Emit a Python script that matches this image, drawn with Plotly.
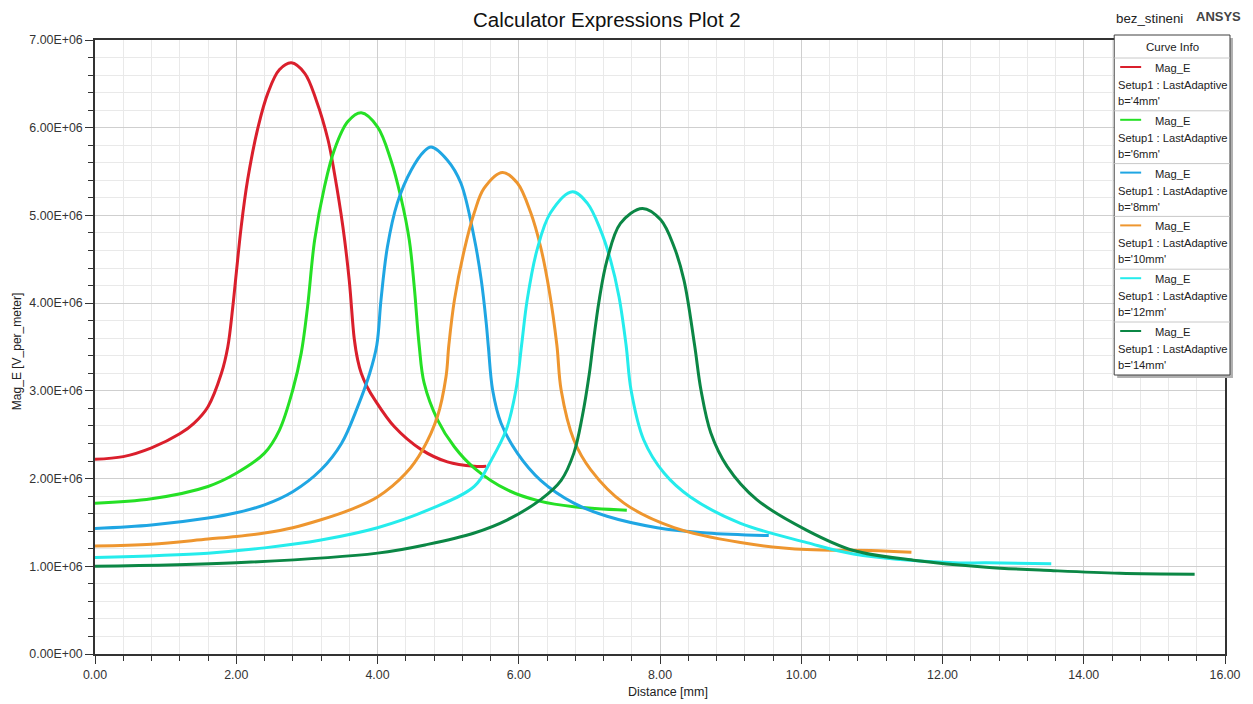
import plotly.graph_objects as go

# ---- data ----
labels = ["b='4mm'", "b='6mm'", "b='8mm'", "b='10mm'", "b='12mm'", "b='14mm'"]
colors = ["#da1f2c", "#25e025", "#1fa6e3", "#ee962f", "#25ecec", "#0b8745"]

x_4 = [0, 0.4, 0.8, 1.2, 1.4, 1.6, 1.79, 1.88, 1.95, 2.0, 2.07, 2.16, 2.31, 2.45, 2.61, 2.78, 2.97, 3.13, 3.30, 3.39, 3.51, 3.60, 3.67, 3.72, 3.77, 3.85, 3.96, 4.24, 4.62, 4.99, 5.37, 5.54]
y_4 = [2.22, 2.25, 2.35, 2.51, 2.63, 2.82, 3.20, 3.50, 3.95, 4.34, 4.87, 5.40, 6.01, 6.40, 6.66, 6.74, 6.62, 6.32, 5.86, 5.48, 4.87, 4.26, 3.60, 3.35, 3.20, 3.05, 2.90, 2.59, 2.33, 2.19, 2.14, 2.14]

x_6 = [0, 0.8, 1.6, 2.0, 2.4, 2.61, 2.8, 2.92, 3.01, 3.11, 3.25, 3.39, 3.58, 3.77, 4.0, 4.19, 4.33, 4.45, 4.52, 4.59, 4.66, 4.85, 5.09, 5.37, 5.84, 6.31, 6.78, 7.53]
y_6 = [1.72, 1.77, 1.91, 2.06, 2.29, 2.55, 3.01, 3.43, 3.96, 4.72, 5.33, 5.75, 6.07, 6.17, 6.01, 5.63, 5.21, 4.72, 4.19, 3.52, 3.09, 2.67, 2.36, 2.12, 1.87, 1.74, 1.68, 1.64]

x_8 = [0, 0.8, 1.6, 2.0, 2.4, 2.8, 3.2, 3.49, 3.72, 3.89, 3.99, 4.05, 4.14, 4.28, 4.48, 4.66, 4.76, 4.99, 5.18, 5.37, 5.47, 5.54, 5.57, 5.63, 5.75, 5.98, 6.31, 6.78, 7.25, 7.96, 8.66, 9.54]
y_8 = [1.43, 1.47, 1.55, 1.61, 1.70, 1.85, 2.10, 2.40, 2.82, 3.20, 3.52, 4.04, 4.64, 5.14, 5.52, 5.73, 5.78, 5.63, 5.37, 4.74, 4.26, 3.77, 3.50, 3.01, 2.63, 2.29, 1.98, 1.72, 1.57, 1.44, 1.38, 1.35]

x_10 = [0, 0.8, 1.6, 2.0, 2.4, 2.8, 3.2, 3.6, 4.0, 4.4, 4.64, 4.85, 4.97, 5.01, 5.09, 5.23, 5.37, 5.51, 5.77, 5.98, 6.17, 6.31, 6.43, 6.54, 6.60, 6.78, 7.02, 7.49, 8.20, 9.14, 10.08, 10.98, 11.56]
y_10 = [1.23, 1.25, 1.31, 1.34, 1.38, 1.44, 1.53, 1.64, 1.79, 2.06, 2.33, 2.71, 3.16, 3.52, 4.04, 4.61, 5.03, 5.31, 5.49, 5.37, 5.03, 4.64, 4.15, 3.52, 3.01, 2.44, 2.10, 1.72, 1.44, 1.27, 1.19, 1.18, 1.16]

x_12 = [0, 1.6, 2.4, 3.2, 4.0, 4.71, 5.37, 5.61, 5.82, 5.96, 6.04, 6.12, 6.26, 6.45, 6.76, 6.97, 7.16, 7.30, 7.42, 7.52, 7.59, 7.77, 8.06, 8.43, 9.14, 10.08, 10.74, 12.16, 12.62, 13.54]
y_12 = [1.10, 1.15, 1.21, 1.30, 1.44, 1.64, 1.91, 2.21, 2.55, 3.01, 3.52, 4.04, 4.61, 5.03, 5.27, 5.14, 4.83, 4.49, 4.07, 3.52, 3.01, 2.44, 2.06, 1.79, 1.49, 1.27, 1.14, 1.04, 1.04, 1.03]

x_14 = [0, 2.0, 4.0, 4.71, 5.37, 5.84, 6.31, 6.60, 6.78, 6.90, 7.0, 7.05, 7.14, 7.25, 7.44, 7.75, 8.01, 8.20, 8.34, 8.49, 8.58, 8.72, 8.95, 9.37, 10.08, 10.74, 11.59, 12.62, 13.57, 14.51, 15.57]
y_14 = [1.00, 1.04, 1.15, 1.25, 1.38, 1.53, 1.76, 1.98, 2.29, 2.71, 3.20, 3.52, 4.04, 4.49, 4.91, 5.08, 4.95, 4.64, 4.26, 3.52, 3.01, 2.52, 2.14, 1.76, 1.41, 1.18, 1.07, 0.99, 0.95, 0.92, 0.91]

xs = [x_4, x_6, x_8, x_10, x_12, x_14]
ys = [y_4, y_6, y_8, y_10, y_12, y_14]

x_tickvals = [0, 2, 4, 6, 8, 10, 12, 14, 16]
x_ticktext = ["0.00", "2.00", "4.00", "6.00", "8.00", "10.00", "12.00", "14.00", "16.00"]
y_tickvals = [0, 1e6, 2e6, 3e6, 4e6, 5e6, 6e6, 7e6]
y_ticktext = ["0.00E+00", "1.00E+06", "2.00E+06", "3.00E+06", "4.00E+06", "5.00E+06", "6.00E+06", "7.00E+06"]

# ---- figure ----
OFF = 8  # default page body margin
W, H = 1253 - OFF, 704 - OFF
L, R, T, B = 95 - OFF, 1227 - OFF, 40 - OFF, 654 - OFF
FONT = "Liberation Sans, Arial, sans-serif"

fig = go.Figure()
for xv, yv, c, lab in zip(xs, ys, colors, labels):
    fig.add_trace(go.Scatter(
        x=xv, y=[v * 1e6 for v in yv], mode="lines", name="Mag_E " + lab,
        line=dict(color=c, width=3, shape="spline", smoothing=1.0),
        showlegend=False,
    ))

def px(xp):
    # xp given in screenshot pixels
    return (xp - OFF - L) / (R - L)

def py(yp):
    return (B - (yp - OFF)) / (B - T)

shapes = []
annotations = []

LEG_FS = 11.2

# legend box "Curve Info"
bx0, bx1, by0, by1 = 1116, 1232, 35, 375
shapes.append(dict(type="rect", xref="paper", yref="paper",
                   x0=px(bx0 + 3), x1=px(bx1 + 3), y0=py(by1 + 3), y1=py(by0 + 3),
                   fillcolor="#b0b0b0", line=dict(width=0), layer="above"))
shapes.append(dict(type="rect", xref="paper", yref="paper",
                   x0=px(bx0), x1=px(bx1), y0=py(by1), y1=py(by0),
                   fillcolor="white", line=dict(color="#404040", width=1), layer="above"))
annotations.append(dict(xref="paper", yref="paper", x=px((bx0 + bx1) / 2), y=py(47),
                        text="Curve Info", showarrow=False, xanchor="center", yanchor="middle",
                        font=dict(family=FONT, size=11.5, color="#222")))
row_top = 58
row_h = 52.8
shapes.append(dict(type="line", xref="paper", yref="paper", x0=px(bx0), x1=px(bx1),
                   y0=py(row_top), y1=py(row_top), line=dict(color="#c8c8c8", width=1), layer="above"))
for i, (c, lab) in enumerate(zip(colors, labels)):
    top = row_top + i * row_h
    if i > 0:
        shapes.append(dict(type="line", xref="paper", yref="paper", x0=px(bx0), x1=px(bx1),
                           y0=py(top), y1=py(top), line=dict(color="#c8c8c8", width=1), layer="above"))
    shapes.append(dict(type="line", xref="paper", yref="paper", x0=px(1122), x1=px(1143),
                       y0=py(top + 9), y1=py(top + 9), line=dict(color=c, width=2), layer="above"))
    annotations.append(dict(xref="paper", yref="paper", x=px(1155), y=py(top + 10),
                            text="Mag_E", showarrow=False, xanchor="left", yanchor="middle",
                            font=dict(family=FONT, size=LEG_FS, color="#222")))
    annotations.append(dict(xref="paper", yref="paper", x=px(1118), y=py(top + 27),
                            text="Setup1 : LastAdaptive", showarrow=False, xanchor="left", yanchor="middle",
                            font=dict(family=FONT, size=LEG_FS, color="#222")))
    annotations.append(dict(xref="paper", yref="paper", x=px(1118), y=py(top + 43),
                            text=lab, showarrow=False, xanchor="left", yanchor="middle",
                            font=dict(family=FONT, size=LEG_FS, color="#222")))

# header texts
annotations.append(dict(xref="paper", yref="paper", x=px(1151), y=py(19), text="bez_stineni",
                        showarrow=False, xanchor="center", yanchor="middle",
                        font=dict(family=FONT, size=13.3, color="#222")))
annotations.append(dict(xref="paper", yref="paper", x=px(1220), y=py(17), text="<b>ANSYS</b>",
                        showarrow=False, xanchor="center", yanchor="middle",
                        font=dict(family=FONT, size=13, color="#444")))
annotations.append(dict(xref="paper", yref="paper", x=px(608), y=py(20),
                        text="Calculator Expressions Plot 2", showarrow=False,
                        xanchor="center", yanchor="middle",
                        font=dict(family=FONT, size=20.5, color="#111")))
# axis titles
annotations.append(dict(xref="paper", yref="paper", x=px(669), y=py(692),
                        text="Distance [mm]", showarrow=False, xanchor="center", yanchor="middle",
                        font=dict(family=FONT, size=12.5, color="#222")))
annotations.append(dict(xref="paper", yref="paper", x=px(17), y=py(352),
                        text="Mag_E [V_per_meter]", showarrow=False, textangle=-90,
                        xanchor="center", yanchor="middle",
                        font=dict(family=FONT, size=12, color="#222")))

fig.update_layout(
    width=W, height=H,
    margin=dict(l=L, r=W - R, t=T, b=H - B, pad=0),
    paper_bgcolor="white", plot_bgcolor="white",
    font=dict(family=FONT, size=12.4, color="#333"),
    shapes=shapes, annotations=annotations,
    showlegend=False,
)
fig.update_xaxes(
    range=[0, 16], tickvals=x_tickvals, ticktext=x_ticktext,
    showline=True, linecolor="#333", linewidth=1.5, mirror=True,
    ticks="outside", ticklen=8, tickcolor="#333",
    showgrid=True, gridcolor="#cfcfcf", gridwidth=1, zeroline=False,
    minor=dict(dtick=0.4, showgrid=True, gridcolor="#e9e9e9", ticks="outside", ticklen=5, tickcolor="#333"),
    tickfont=dict(family=FONT, size=12.4, color="#333"),
)
fig.update_yaxes(
    range=[0, 7e6], tickvals=y_tickvals, ticktext=y_ticktext,
    showline=True, linecolor="#333", linewidth=1.5, mirror=True,
    ticks="outside", ticklen=8, tickcolor="#333",
    showgrid=True, gridcolor="#cfcfcf", gridwidth=1, zeroline=False,
    minor=dict(dtick=2e5, showgrid=True, gridcolor="#e9e9e9", ticks="outside", ticklen=5, tickcolor="#333"),
    tickfont=dict(family=FONT, size=12.4, color="#333"),
)

fig.write_html("out.html")
